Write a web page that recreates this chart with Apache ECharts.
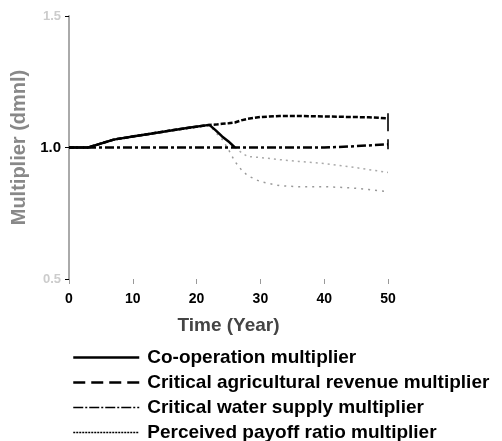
<!DOCTYPE html>
<html><head><meta charset="utf-8">
<script src="https://cdn.jsdelivr.net/npm/echarts@6/dist/echarts.min.js"></script>
<style>html,body{margin:0;padding:0;background:#fff}#c{width:502px;height:441px}</style>
</head><body><div id="c"></div>
<script>
var years = [0,3,7,10,13,16,19,22,23,24,25,26,27,28,30,33,36,40,44,47,50];
var cooperation = [1.0,1.0,1.03,1.042,1.053,1.065,1.076,1.086,1.065,1.042,1.023,1.0,0.981,0.966,0.962,0.954,0.947,0.939,0.927,0.916,0.905];
var agriRevenue = [1.0,1.0,1.03,1.042,1.053,1.065,1.076,1.086,1.087,1.09,1.092,1.095,1.103,1.109,1.116,1.12,1.12,1.118,1.116,1.115,1.111];
var waterSupply = [1.0,1.0,1.0,1.0,1.0,1.0,1.0,1.0,1.0,1.0,1.0,1.0,1.0,1.0,1.0,1.0,1.0,1.0,1.004,1.008,1.012];
var payoffRatio = [1.0,1.0,1.03,1.042,1.053,1.065,1.076,1.086,1.057,1.031,0.992,0.947,0.916,0.893,0.870,0.855,0.851,0.851,0.847,0.840,0.832];
var names = ['Co-operation multiplier','Critical agricultural revenue multiplier','Critical water supply multiplier','Perceived payoff ratio multiplier'];
var yTicks = [0.5, 1.0, 1.5];

function pairs(v){ return years.map(function(x,i){ return [x, v[i]]; }); }
var n = years.length - 1;
var coopAll = pairs(cooperation);
var coopHead = coopAll.filter(function(p){ return p[0] <= 26; });
var coopTail = coopAll.filter(function(p){ return p[0] >= 26; });
var legendStyles = [
  {type:'solid', width:2.5},
  {type:[12,6], width:2.5},
  {type:[10,2,2,2], width:1.5},
  {type:[2,1], width:1.5}
];
var FONT = 'Liberation Sans';
var chart = echarts.init(document.getElementById('c'));
chart.setOption({
  animation:false,
  backgroundColor:'#fff',
  grid:{left:69,right:114,top:16,bottom:162},
  legend:{
    orient:'vertical', left:72, top:348, padding:0, height:120, itemWidth:66, itemHeight:12, itemGap:6,
    itemStyle:{opacity:0},
    textStyle:{fontFamily:FONT, fontWeight:'bold', fontSize:19, lineHeight:19, color:'#000', padding:[0,0,0,3]},
    data:names.map(function(nm,i){ return {name:nm, lineStyle:{color:'#000', type:legendStyles[i].type, width:legendStyles[i].width, opacity:1}}; })
  },
  xAxis:{type:'value', min:0, max:50, interval:10,
    name:'Time (Year)', nameLocation:'middle', nameGap:37,
    nameTextStyle:{fontFamily:FONT, fontWeight:'bold', fontSize:19, color:'#444'},
    axisLine:{show:false}, splitLine:{show:false},
    axisTick:{show:true, inside:false, length:5, lineStyle:{color:'#999'}},
    axisLabel:{fontFamily:FONT, fontWeight:'bold', fontSize:14, color:'#000', margin:13}
  },
  yAxis:{type:'value', min:0.5, max:1.5, interval:0.5,
    name:'Multiplier (dmnl)', nameLocation:'middle', nameGap:37, nameRotate:90,
    nameTextStyle:{fontFamily:FONT, fontWeight:'bold', fontSize:20, color:'#888'},
    axisLine:{show:true, lineStyle:{color:'#aaa', width:2}}, splitLine:{show:false},
    axisTick:{show:true, length:4, lineStyle:{color:'#000'}},
    axisLabel:{fontFamily:FONT, fontWeight:'bold', fontSize:15, margin:8,
      formatter:function(v){ return yTicks.indexOf(v)>=0 ? (v===1?'{b|':'{f|')+v.toFixed(1)+'}' : ''; },
      rich:{b:{color:'#000', fontWeight:'bold', fontSize:15, fontFamily:FONT},
            f:{color:'#ccc', fontWeight:'bold', fontSize:13, fontFamily:FONT}}}
  },
  series:[
    {name:names[0], type:'line', symbol:'none', showSymbol:false, z:5, data:coopHead,
      lineStyle:{color:'#000', width:2.5, type:'solid'}, itemStyle:{color:'#000'}},
    {name:'coopTail', type:'line', symbol:'none', showSymbol:false, z:1, data:coopTail,
      lineStyle:{color:'#aaa', width:1.5, type:[2,4]}, itemStyle:{color:'#aaa'}},
    {name:names[1], type:'line', symbol:'none', showSymbol:false, z:3, data:pairs(agriRevenue),
      lineStyle:{color:'#000', width:2.5, type:[5,2]}, itemStyle:{color:'#000'}},
    {name:names[2], type:'line', symbol:'none', showSymbol:false, z:4, data:pairs(waterSupply),
      lineStyle:{color:'#000', width:2.5, type:[9,3,3,3]}, itemStyle:{color:'#000'}},
    {name:names[3], type:'line', symbol:'none', showSymbol:false, z:2, data:pairs(payoffRatio),
      lineStyle:{color:'#999', width:1.5, type:[2,5]}, itemStyle:{color:'#000'}},
    {name:'end', type:'scatter', symbol:'rect', z:6, itemStyle:{color:'#000'},
      data:[{value:[years[n], agriRevenue[n]], symbolSize:[2,18], symbolOffset:[0,4]},
            {value:[years[n], waterSupply[n]], symbolSize:[2,10], symbolOffset:[0,0]}]}
  ]
});
</script></body></html>
